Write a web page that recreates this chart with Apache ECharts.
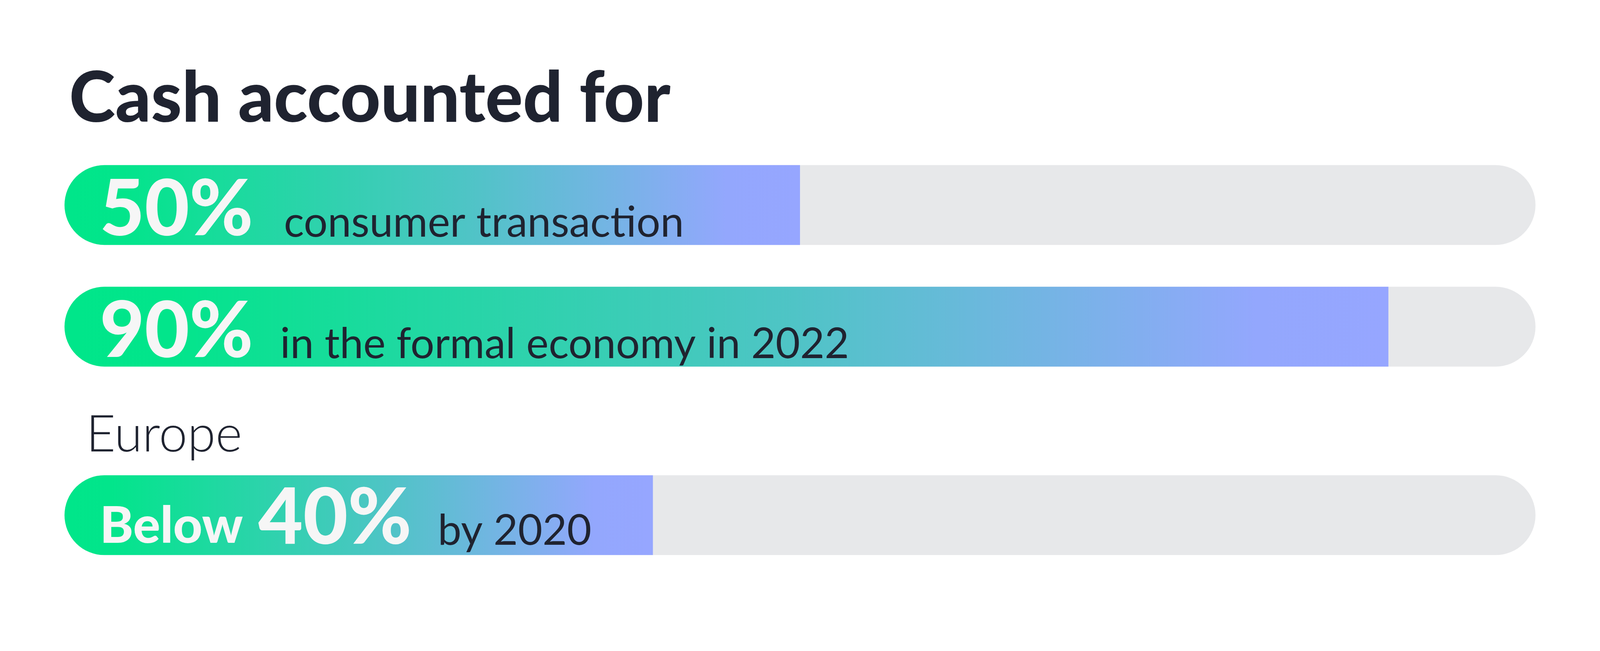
<!DOCTYPE html>
<html>
<head>
<meta charset="utf-8">
<script src="https://cdn.jsdelivr.net/npm/echarts@6/dist/echarts.min.js"></script>
<style>
  html, body { margin: 0; padding: 0; background: #ffffff; width: 100%; height: 100%; overflow: hidden; }
  #chart { width: 100%; height: 100%; }
</style>
</head>
<body>
<div id="chart"></div>
<script>
// ---- data ----
const titleText = 'Cash accounted for';
const categories = ['Consumer transactions', 'Formal economy 2022', 'Europe 2020'];
const values = [50, 90, 40];
const valueLabels = ['50%', '90%', '40%'];
const prefixLabels = ['', '', 'Below'];
const suffixLabels = ['consumer transaction', 'in the formal economy in 2022', 'by 2020'];
const sectionLabels = ['', '', 'Europe'];
const axisMin = 0;
const axisMax = 100;

// ---- layout / style (not data), designed for 4167 x 1667 ----
const el = document.getElementById('chart');
const W = el.clientWidth || 4167, H = el.clientHeight || 1667;
const s = Math.min(W / 4167, H / 1667);
const FONT = 'Lato';
const DARK = '#1F2330';
const LIGHT = '#F6F6F6';
const TRACK = '#E7E8EA';
const barTops = [430, 747, 1238];
const barH = 208;
const gapBig = [80, 70, 68];
const gapPrefix = 40;
const labelDy = [14, 14, 9];

const gradient = {
  type: 'linear', x: 0, y: 0, x2: 1, y2: 0,
  colorStops: [
    { offset: 0, color: '#00E68A' },
    { offset: 0.08, color: '#02E58B' },
    { offset: 0.55, color: '#4FC4C6' },
    { offset: 0.9, color: '#93A7FD' },
    { offset: 1, color: '#96A6FF' }
  ]
};

const grids = [], xAxes = [], yAxes = [], series = [];
categories.forEach((cat, i) => {
  grids.push({ left: 168 * s, right: W - 3999 * s, top: barTops[i] * s, height: barH * s, containLabel: false });
  xAxes.push({ type: 'value', gridIndex: i, min: axisMin, max: axisMax, show: false });
  yAxes.push({ type: 'category', gridIndex: i, data: [cat], show: false });
  const rich = {
    pre: { fontFamily: FONT, fontWeight: 900, fontSize: 132 * s, color: LIGHT, verticalAlign: 'bottom', padding: [0, gapPrefix * s, 14 * s, 0] },
    big: { fontFamily: FONT, fontWeight: 900, fontSize: 201 * s, color: LIGHT, verticalAlign: 'bottom' },
    desc: { fontFamily: FONT, fontWeight: 400, fontSize: 110 * s, color: DARK, verticalAlign: 'bottom', padding: [0, 0, 13 * s, gapBig[i] * s] }
  };
  series.push({
    type: 'bar',
    xAxisIndex: i,
    yAxisIndex: i,
    data: [values[i]],
    barWidth: barH * s,
    showBackground: true,
    backgroundStyle: { color: TRACK, borderRadius: barH * s / 2 },
    itemStyle: { color: gradient, borderRadius: [barH * s / 2, 0, 0, barH * s / 2] },
    label: {
      show: true,
      position: 'insideLeft',
      distance: 92 * s,
      offset: [0, labelDy[i] * s],
      formatter: () => (prefixLabels[i] ? '{pre|' + prefixLabels[i] + '}' : '') +
        '{big|' + valueLabels[i] + '}' + '{desc|' + suffixLabels[i] + '}',
      rich: rich
    },
    emphasis: { disabled: true },
    silent: true,
    animation: false
  });
});

const titles = [{
  text: titleText, left: 175 * s, top: 163 * s,
  textStyle: { fontFamily: FONT, fontWeight: 900, fontSize: 182 * s, color: DARK }
}];
sectionLabels.forEach((sec, i) => {
  if (sec) titles.push({
    text: sec, left: 219 * s, top: (barTops[i] - 177) * s,
    textStyle: { fontFamily: FONT, fontWeight: 300, fontSize: 133 * s, color: DARK }
  });
});

const chart = echarts.init(el, null, { renderer: 'canvas' });
chart.setOption({
  backgroundColor: '#ffffff',
  animation: false,
  title: titles,
  grid: grids,
  xAxis: xAxes,
  yAxis: yAxes,
  series: series
});
</script>
</body>
</html>
